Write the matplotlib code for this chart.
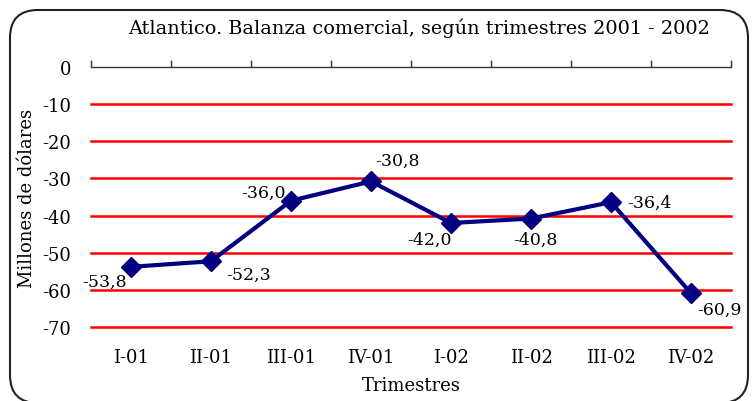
import numpy as np
import matplotlib
matplotlib.use("Agg")
import matplotlib.pyplot as plt
from matplotlib.patches import FancyBboxPatch

trimestres = ["I-01", "II-01", "III-01", "IV-01", "I-02", "II-02", "III-02", "IV-02"]
balanza = [-53.8, -52.3, -36.0, -30.8, -42.0, -40.8, -36.4, -60.9]
y_ticks = [0, -10, -20, -30, -40, -50, -60, -70]

# label offsets in pixels (dx, dy)
label_offsets = [(-26, -14), (38, -13), (-27, 8), (26, 21),
                 (-21, -16), (4, -21), (39, 0), (28, -16)]

plt.rcParams["font.family"] = ["DejaVu Serif"]

fig = plt.figure(figsize=(7.53, 4.02), dpi=100)
ax = fig.add_axes([91 / 753, 1 - 328 / 402, 640 / 753, 260 / 402])

x = np.arange(len(trimestres))
ax.plot(x, balanza, color="#000080", linewidth=3, marker="D",
        markersize=10, zorder=3, clip_on=False)

for xi, v, (dx, dy) in zip(x, balanza, label_offsets):
    ax.annotate(f"{v:.1f}".replace(".", ","), (xi, v), xytext=(dx, dy),
                textcoords="offset pixels", ha="center", va="center",
                fontsize=12.5)

ax.set_xlim(-0.5, len(trimestres) - 0.5)
ax.set_ylim(-70, 0)
ax.set_yticks(y_ticks)
ax.set_yticklabels([str(t) for t in y_ticks])
for t in y_ticks[1:]:
    ax.axhline(t, color="#ff0000", linewidth=1.8, zorder=1, clip_on=False)

for s in ["left", "right", "bottom"]:
    ax.spines[s].set_visible(False)
ax.spines["top"].set_color("#333333")
ax.spines["top"].set_linewidth(1.0)

ax.set_xticks(np.arange(-0.5, len(trimestres)))
ax.set_xticks(x, minor=True)
ax.set_xticklabels(trimestres, minor=True)
ax.tick_params(axis="x", which="major", top=True, bottom=False,
               labeltop=False, labelbottom=False, direction="out",
               length=5, width=1, color="#333333")
ax.tick_params(axis="x", which="minor", top=False, bottom=True,
               length=0, pad=15, labelsize=13)
ax.tick_params(axis="y", length=0, pad=14, labelsize=13)

ax.set_xlabel("Trimestres", fontsize=13, labelpad=7)
ax.set_ylabel("Millones de dólares", fontsize=13, labelpad=5)
fig.text(419 / 753, 1 - 28 / 402,
         "Atlantico. Balanza comercial, según trimestres 2001 - 2002",
         ha="center", va="center", fontsize=13.9)

frame = FancyBboxPatch((0.10 + 0.2, -0.02 + 0.2), 7.38 - 0.4, 3.93 - 0.4,
                       boxstyle="round,pad=0.2,rounding_size=0.28",
                       transform=fig.dpi_scale_trans, fill=False,
                       edgecolor="#222222", linewidth=1.5, clip_on=False)
fig.add_artist(frame)

fig.savefig("out.png", dpi=100)
